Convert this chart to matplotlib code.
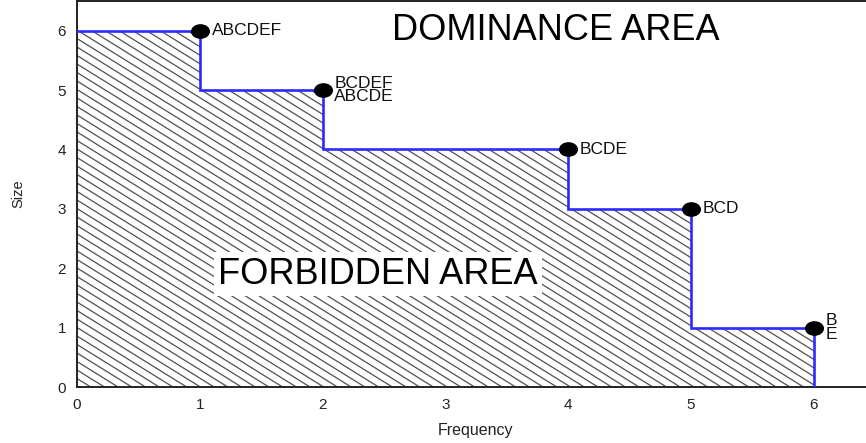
import numpy as np
import matplotlib
matplotlib.use("Agg")
import matplotlib.pyplot as plt
from matplotlib.patches import Polygon
from matplotlib.collections import LineCollection
from matplotlib.path import Path
from matplotlib.transforms import Affine2D

plt.rcParams['font.family'] = ['Liberation Sans', 'DejaVu Sans']

# pareto points (frequency, size) and the itemsets at each point
freq = [1, 2, 4, 5, 6]
size = [6, 5, 4, 3, 1]
labels = ["ABCDEF", "BCDEF\nABCDE", "BCDE", "BCD", "B\nE"]
ticks = [0, 1, 2, 3, 4, 5, 6]

# step frontier built from the points
xs, ys = [0], [size[0]]
for i in range(len(freq)):
    xs.append(freq[i])
    ys.append(size[i])
    xs.append(freq[i])
    ys.append(size[i + 1] if i + 1 < len(size) else 0)

fig = plt.figure(figsize=(8.66, 4.43), dpi=100)
pos = [0.0889, 0.1264, 0.9215, 0.8713]
ax = fig.add_axes(pos)
ax.set_xlim(0, 6.5)
ax.set_ylim(0, 6.5)

# forbidden area, hatched with slanted lines clipped to the region
region = Polygon(list(zip(xs, ys)) + [(xs[-1], 0), (0, 0)], closed=True,
                 facecolor='white', edgecolor='none', zorder=1)
ax.add_patch(region)
W = fig.get_figwidth() * fig.dpi * pos[2]
H = fig.get_figheight() * fig.dpi * pos[3]
slope = 0.62 * W / H
step = 8.5 / H
segs = [[(0, c), (1, c - slope)] for c in np.arange(0, 1 + slope + step, step)]
hatch = LineCollection(segs, colors='#505050', linewidths=0.9,
                       transform=ax.transAxes, zorder=2)
hatch.set_clip_path(region)
ax.add_collection(hatch)

ax.plot(xs, ys, color='#2b2bff', lw=1.9, zorder=3, solid_joinstyle='miter')

# slightly wide dots
dot = Path.unit_circle().transformed(Affine2D().scale(1.33, 1.0))
ax.plot(freq, size, linestyle='none', marker=dot, markersize=12.7,
        color='black', zorder=4, clip_on=False)

for f, s, lab in zip(freq, size, labels):
    ax.annotate(lab, (f, s), xytext=(8.5, 0), textcoords='offset points',
                ha='left', va='center', fontsize=12.5, linespacing=0.9,
                color='#111111', zorder=5)

ax.text(3.9, 6.0, "DOMINANCE AREA", ha='center', va='center', fontsize=26,
        color='black', zorder=5)
ax.text(2.45, 1.9, "FORBIDDEN AREA", ha='center', va='center', fontsize=26,
        color='black', zorder=5,
        bbox=dict(boxstyle='square,pad=0.12', facecolor='white', edgecolor='none'))

ax.set_xticks(ticks)
ax.set_yticks(ticks)
ax.tick_params(length=0, labelsize=11, labelcolor='#222222', pad=8)
ax.set_xlabel("Frequency", fontsize=11.5, color='#222222', labelpad=8)
ax.set_ylabel("Size", fontsize=10.5, color='#222222', labelpad=23)

for side in ['left', 'bottom', 'top']:
    ax.spines[side].set_color('#222222')
    ax.spines[side].set_linewidth(1.4)
ax.spines['right'].set_visible(False)

fig.savefig("out.png", dpi=100)
